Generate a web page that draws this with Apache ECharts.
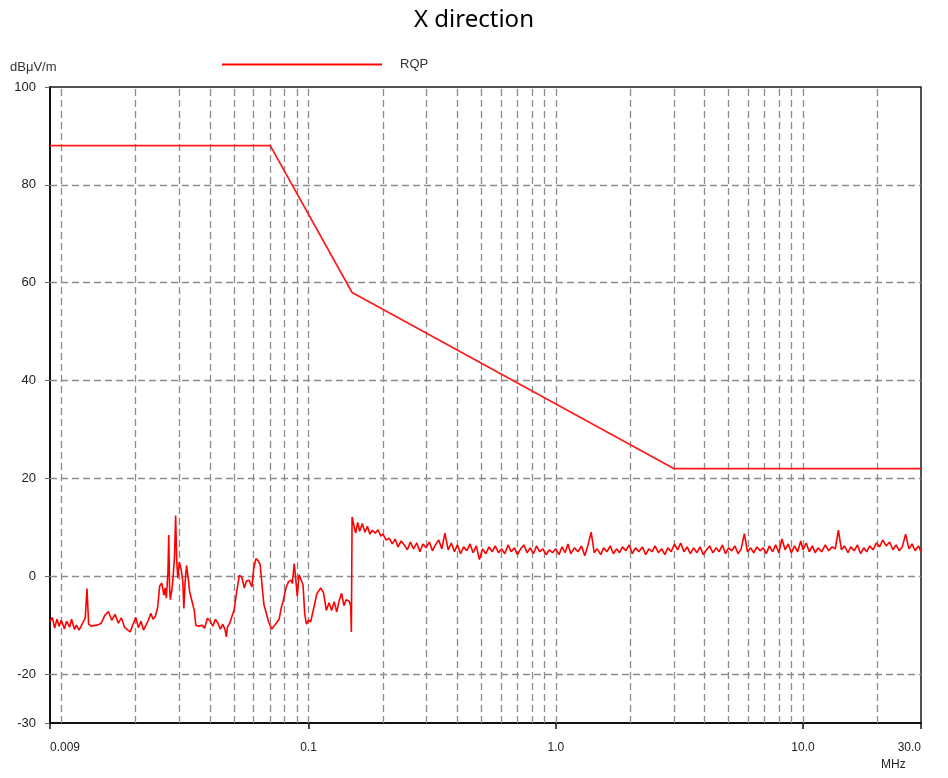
<!DOCTYPE html>
<html>
<head>
<meta charset="utf-8">
<script src="https://cdn.jsdelivr.net/npm/echarts@6.0.0/dist/echarts.min.js"></script>
<style>html,body{margin:0;padding:0;background:#fff;}#chart{width:948px;height:778px;}</style>
</head>
<body>
<div id="chart"></div>
<script>
// ---- data ----
const chartTitle = 'X direction';
const legendName = 'RQP';
const yUnit = 'dBμV/m';
const xUnit = 'MHz';

const xTickValues = [0.009, 0.1, 1, 10, 30];
const xTickLabels = ['0.009', '0.1', '1.0', '10.0', '30.0'];
const yTickValues = [-30, -20, 0, 20, 40, 60, 80, 100];
const xGridValues = [0.01,0.02,0.03,0.04,0.05,0.06,0.07,0.08,0.09,0.1,0.2,0.3,0.4,0.5,0.6,0.7,0.8,0.9,1,2,3,4,5,6,7,8,9,10,20];
const yGridValues = [-20, 0, 20, 40, 60, 80];

const limitFreq = [0.009, 0.07, 0.15, 3, 30];
const limitLevel = [88, 88, 58, 22, 22];

const noiseFreq = [
0.0090,0.0092,0.0094,0.0096,0.0098,0.0100,0.0103,0.0105,0.0108,0.0110,0.0113,0.0115,0.0118,0.0120,0.0123,0.0125,0.0127,0.0129,0.0132,0.0135,
0.0140,0.0145,0.0150,0.0155,0.0160,0.0165,0.0170,0.0175,0.0180,0.0185,0.0190,0.0195,0.0200,0.0205,0.0210,0.0215,0.0220,0.0225,0.0230,0.0235,
0.0240,0.0245,0.0250,0.0255,0.0260,0.0263,0.0266,0.0270,0.0272,0.0274,0.0276,0.0280,0.0283,0.0287,0.0290,0.0293,0.0296,0.0300,0.0305,0.0310,
0.0313,0.0317,0.0321,0.0326,0.0330,0.0335,0.0340,0.0345,0.0350,0.0360,0.0370,0.0380,0.0390,0.0400,0.0410,0.0420,0.0430,0.0440,0.0450,0.0460,
0.0465,0.0470,0.0480,0.0490,0.0500,0.0512,0.0525,0.0537,0.0550,0.0560,0.0575,0.0590,0.0600,0.0612,0.0625,0.0637,0.0650,0.0660,0.0670,0.0690,
0.0710,0.0725,0.0740,0.0760,0.0775,0.0790,0.0810,0.0830,0.0850,0.0860,0.0875,0.0890,0.0900,0.0915,0.0930,0.0950,0.0965,0.0980,
0.100,0.102,0.105,0.108,0.112,0.115,0.118,0.121,0.124,0.127,0.130,0.133,0.136,0.139,0.142,0.146,0.148,0.149,0.150,
0.152,0.155,0.158,0.161,0.165,0.169,0.173,0.177,0.181,0.186,0.191,0.196,0.200,0.206,0.212,0.218,0.224,0.230,0.237,0.244,
0.251,0.258,0.266,0.274,0.282,0.290,0.299,0.308,0.317,0.326,0.336,0.346,0.356,0.367,0.378,0.389,0.400,0.412,0.424,0.437,
0.450,0.463,0.477,0.491,0.506,0.521,0.537,0.553,0.569,0.586,0.604,0.622,0.641,0.660,0.680,0.700,0.721,0.743,0.765,0.788,
0.812,0.836,0.861,0.887,0.914,0.941,0.970,1.00,
1.03,1.06,1.09,1.12,1.15,1.19,1.23,1.27,1.31,1.35,1.39,1.43,1.47,1.52,1.56,1.61,1.66,1.71,1.76,1.81,
1.86,1.92,1.98,2.04,2.10,2.17,2.24,2.31,2.38,2.45,2.52,2.60,2.68,2.76,2.84,2.93,3.02,3.11,3.20,3.30,
3.40,3.50,3.61,3.72,3.83,3.95,4.07,4.19,4.32,4.45,4.58,4.72,4.86,5.00,5.15,5.30,5.46,5.62,5.79,5.96,
6.14,6.32,6.51,6.70,6.90,7.10,7.31,7.53,7.75,7.98,8.22,8.46,8.71,8.97,9.24,9.51,9.79,10.0,
10.3,10.6,10.9,11.2,11.5,11.9,12.3,12.7,13.1,13.5,13.9,14.3,14.7,15.2,15.6,16.1,16.6,17.1,17.6,18.1,
18.6,19.2,19.8,20.4,21.0,21.7,22.4,23.1,23.8,24.5,25.2,26.0,26.8,27.6,28.4,29.3,30.0
];
const noiseLevel = [
-9.3,-8.4,-10.6,-8.8,-10.2,-9.0,-10.8,-9.2,-10.4,-8.8,-10.9,-10.0,-11.0,-10.3,-9.2,-8.5,-2.5,-9.8,-10.2,-10.1,
-10.0,-9.6,-8.0,-7.2,-9.0,-7.8,-9.6,-8.5,-10.4,-10.9,-11.4,-9.8,-8.4,-10.5,-9.2,-11.0,-10.0,-9.0,-7.6,-8.8,
-8.2,-6.5,-2.0,-1.4,-3.9,-2.4,-4.5,1.0,8.4,-2.0,-4.8,-2.8,-0.4,4.0,12.4,3.0,-0.4,2.9,1.5,-1.0,
-6.6,-1.0,2.2,-0.4,-3.0,-4.4,-5.7,-7.0,-10.0,-10.2,-10.0,-10.6,-8.6,-9.2,-10.2,-8.8,-9.6,-10.8,-9.8,-11.0,
-12.4,-10.4,-9.6,-8.2,-6.9,-3.2,0.2,-0.2,-2.4,-1.0,-0.8,-2.2,1.5,3.6,3.2,2.4,-2.4,-5.8,-7.0,-9.4,
-10.8,-10.2,-9.6,-8.8,-6.5,-5.0,-2.4,-1.1,-0.8,-1.5,2.6,-1.2,-4.1,0.3,-0.5,-1.8,-7.7,-9.8,
-9.0,-9.3,-6.5,-3.6,-2.4,-3.4,-7.0,-5.4,-7.0,-5.2,-7.3,-5.0,-3.5,-6.0,-4.8,-5.1,-6.0,-11.4,12.1,
12.0,8.8,11.0,9.2,10.8,9.0,10.2,8.6,9.4,8.8,9.5,8.2,8.6,7.4,7.8,6.6,7.6,6.0,7.2,6.4,
5.4,7.0,5.6,6.8,5.0,6.6,5.8,7.0,5.2,6.4,7.4,5.6,8.8,5.4,6.8,5.0,6.4,4.6,6.0,5.2,
6.6,4.8,6.2,3.4,5.6,4.6,6.0,5.0,6.2,4.8,5.6,4.6,6.4,5.0,5.8,4.4,5.6,6.4,4.8,5.8,
4.6,6.2,5.0,5.6,4.4,5.4,4.8,5.6,
4.4,6.0,4.8,6.6,4.6,5.8,5.0,6.2,4.2,6.4,9.0,4.8,5.6,4.4,5.8,5.0,6.2,4.6,5.6,4.8,
6.0,5.2,6.4,4.6,5.8,5.0,6.0,4.4,5.6,5.0,6.2,4.8,5.6,4.4,5.8,5.0,6.6,5.4,6.8,5.0,
6.0,4.6,5.8,4.8,6.0,4.4,5.4,6.2,4.8,5.8,5.0,6.4,4.6,5.8,5.2,6.2,4.6,5.6,8.7,5.0,
5.8,4.8,6.0,5.2,5.8,4.6,6.2,5.0,6.4,4.8,7.6,5.4,6.6,4.8,6.2,5.0,7.2,5.4,
6.8,5.0,6.2,4.8,5.8,5.0,6.4,5.2,6.0,5.6,9.4,5.4,6.2,4.8,6.0,5.2,6.4,4.6,5.8,5.0,
6.2,5.4,6.8,6.0,7.4,6.2,7.0,5.4,6.4,5.2,6.0,8.6,5.6,6.6,5.2,6.2,5.0
];

// ---- chart ----
const FONT = '"Liberation Sans", Arial, sans-serif';
const gridLine = { color: '#8c8c8c', width: 1.3, type: [7, 4] };

function xLabel(v) {
  for (let i = 0; i < xTickValues.length; i++) {
    if (Math.abs(v - xTickValues[i]) <= xTickValues[i] * 1e-4) return xTickLabels[i];
  }
  return '';
}
function yLabel(v) {
  return yTickValues.indexOf(Math.round(v)) >= 0 && Math.abs(v - Math.round(v)) < 1e-6 ? String(Math.round(v)) : '';
}

const markData = xGridValues.map(v => ({ xAxis: v, lineStyle: gridLine }))
  .concat(yGridValues.map(v => ({ yAxis: v, lineStyle: gridLine })));

const chart = echarts.init(document.getElementById('chart'), null, { renderer: 'canvas' });
chart.setOption({
  animation: false,
  backgroundColor: '#ffffff',
  title: {
    text: chartTitle, left: 'center', top: 3,
    textStyle: { fontFamily: '"Noto Sans", sans-serif', fontSize: 24, fontWeight: 'normal', color: '#000' }
  },
  legend: {
    data: [{ name: legendName, icon: 'rect' }], left: 217, top: 53, itemWidth: 160, itemHeight: 2,
    textStyle: { fontFamily: FONT, fontSize: 13, color: '#333', padding: [0, 0, 2, 13] }
  },
  grid: { left: 50, right: 27, top: 87, bottom: 55, show: true, borderColor: '#1a1a1a', borderWidth: 1.5 },
  xAxis: {
    type: 'log', logBase: 10, min: 0.009, max: 30,
    axisLine: { show: true, onZero: false, lineStyle: { color: '#111', width: 2 } },
    axisTick: { show: true, customValues: xTickValues, length: 6, lineStyle: { color: '#111', width: 1.5 } },
    axisLabel: { customValues: xTickValues, formatter: xLabel, margin: 19, fontFamily: FONT, fontSize: 12, color: '#222',
                 alignMinLabel: 'left', alignMaxLabel: 'right', showMinLabel: true, showMaxLabel: true },
    splitLine: { show: false }, minorTick: { show: false }, minorSplitLine: { show: false }
  },
  yAxis: {
    type: 'value', min: -30, max: 100, interval: 10,
    axisLine: { show: true, lineStyle: { color: '#111', width: 2 } },
    axisTick: { show: true, customValues: yTickValues, length: 5, lineStyle: { color: '#666', width: 1 } },
    axisLabel: { customValues: yTickValues, formatter: yLabel, margin: 14, fontFamily: FONT, fontSize: 13, color: '#222' },
    splitLine: { show: false }
  },
  graphic: [
    { type: 'text', left: 10, top: 61, style: { text: yUnit, fontFamily: FONT, fontSize: 13, fill: '#333' } },
    { type: 'text', left: 881, top: 759, style: { text: xUnit, fontFamily: FONT, fontSize: 12, fill: '#222' } }
  ],
  series: [
    {
      name: 'Limit', type: 'line', z: 3, symbol: 'none', silent: true,
      data: limitFreq.map((f, i) => [f, limitLevel[i]]),
      lineStyle: { color: '#ff1a1a', width: 1.7 },
      markLine: { silent: true, z: 1, symbol: ['none', 'none'], label: { show: false }, animation: false, data: markData }
    },
    {
      name: legendName, type: 'line', z: 4, symbol: 'none', silent: true,
      data: noiseFreq.map((f, i) => [f, noiseLevel[i]]),
      itemStyle: { color: '#ff0000' },
      lineStyle: { color: '#ff0000', width: 1.6 }
    }
  ]
});
</script>
</body>
</html>
